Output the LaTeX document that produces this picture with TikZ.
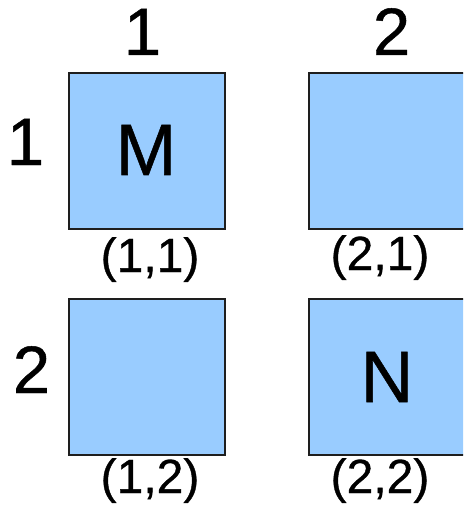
\documentclass[tikz,border=0pt]{standalone}
\usepackage{fontspec}
\setmainfont[FakeBold=0.7]{Liberation Sans}
\definecolor{cellblue}{RGB}{153,204,255}
\definecolor{celledge}{RGB}{30,30,30}
\begin{document}
\begin{tikzpicture}[x=1pt,y=-1pt,
  cell/.style={draw=celledge,line width=1.3pt,fill=cellblue,minimum width=156pt,minimum height=156pt,inner sep=0pt,outer sep=0pt},
  idx/.style={anchor=base,inner sep=0pt,font=\fontsize{67}{67}\selectfont},
  letter/.style={anchor=base,inner sep=0pt,font=\fontsize{73}{73}\selectfont},
  coord/.style={anchor=base,inner sep=0pt,font=\fontsize{48}{48}\selectfont}]
\useasboundingbox (0,0) rectangle (463,505);
\clip (0,0) rectangle (463,505);
% cells
\node[cell] (b11) at (147,151) {};
\node[cell] (b21) at (387,151) {};
\node[cell] (b12) at (147,377) {};
\node[cell] (b22) at (387,377) {};
% column indices
\node[idx] (c1) at (142.5,55) {1};
\node[idx] (c2) at (391.5,55) {2};
% row indices
\node[idx] (r1) at (25.5,165) {1};
\node[idx] (r2) at (31.5,393) {2};
% letters
\node[letter] (m) at (146,175) {M};
\node[letter] (n) at (387,402) {N};
% coordinates
\node[coord] (l11) at (150,272) {(1,1)};
\node[coord] (l21) at (380,270) {(2,1)};
\node[coord] (l12) at (150,493) {(1,2)};
\node[coord] (l22) at (380,493) {(2,2)};
\end{tikzpicture}
\end{document}
